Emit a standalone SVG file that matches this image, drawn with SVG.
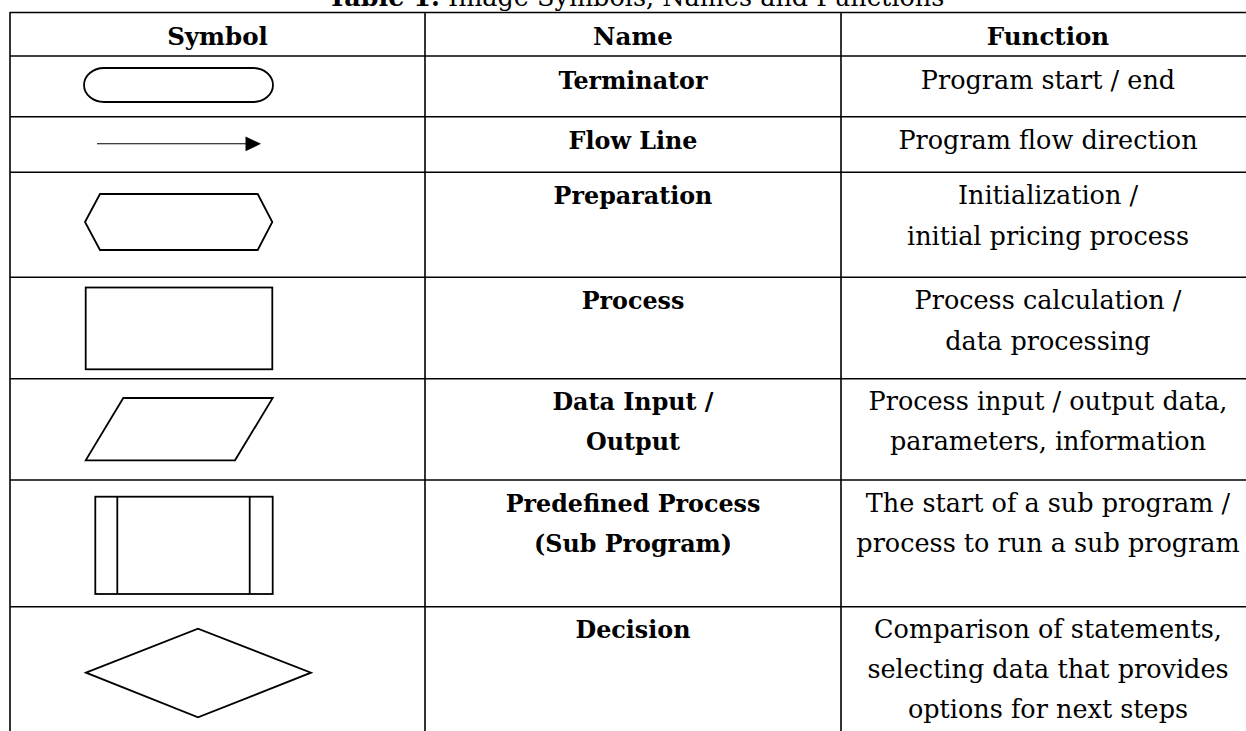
<svg xmlns="http://www.w3.org/2000/svg" width="1246" height="731" viewBox="0 0 1246 731">
<style>
.t{font-family:"DejaVu Serif","Liberation Serif",serif;font-size:25.5px;fill:#000;text-anchor:middle}
.b{font-weight:bold;font-size:23.8px}
.h{font-weight:bold;font-size:24.5px}
.grid{stroke:#000;stroke-width:1.6;fill:none}
.sym{stroke:#000;stroke-width:1.8;fill:none;stroke-linejoin:miter}
</style>
<rect width="1246" height="731" fill="#fff"/>
<g id="title">
<text class="t" x="636" y="5.5"><tspan font-weight="bold">Table 1.</tspan> Image Symbols, Names and Functions</text>
</g>
<g id="grid" class="grid">
<line x1="10" y1="12.5" x2="1246" y2="12.5"/>
<line x1="10" y1="56" x2="1246" y2="56"/>
<line x1="10" y1="116.7" x2="1246" y2="116.7"/>
<line x1="10" y1="172.3" x2="1246" y2="172.3"/>
<line x1="10" y1="277.3" x2="1246" y2="277.3"/>
<line x1="10" y1="378.7" x2="1246" y2="378.7"/>
<line x1="10" y1="480" x2="1246" y2="480"/>
<line x1="10" y1="606.7" x2="1246" y2="606.7"/>
<line x1="10" y1="12" x2="10" y2="731"/>
<line x1="425" y1="12" x2="425" y2="731"/>
<line x1="841" y1="12" x2="841" y2="731"/>
</g>
<g id="header">
<text class="t h" x="217.5" y="45">Symbol</text>
<text class="t h" x="633" y="45">Name</text>
<text class="t h" x="1048" y="45">Function</text>
</g>
<g id="terminator">
<rect class="sym" x="84" y="68" width="189" height="34" rx="20" ry="17" stroke-width="1.6"/>
<text class="t b" x="633" y="88.5">Terminator</text>
<text class="t" x="1048" y="88.5">Program start / end</text>
</g>
<g id="flow-line">
<line x1="97" y1="143.8" x2="247" y2="143.8" stroke="#000" stroke-width="1.1"/>
<polygon points="245.5,136.5 261,143.8 245.5,151.3" fill="#000"/>
<text class="t b" x="633" y="148.5">Flow Line</text>
<text class="t" x="1048" y="148.5">Program flow direction</text>
</g>
<g id="preparation">
<polygon class="sym" points="85,222 100,194 257.7,194 272.3,222 257.7,250 100,250"/>
<text class="t b" x="633" y="204">Preparation</text>
<text class="t" x="1048" y="204">Initialization /</text>
<text class="t" x="1048" y="244.5">initial pricing process</text>
</g>
<g id="process">
<rect class="sym" x="85.7" y="287.5" width="186.6" height="81.8"/>
<text class="t b" x="633" y="309">Process</text>
<text class="t" x="1048" y="309">Process calculation /</text>
<text class="t" x="1048" y="350">data processing</text>
</g>
<g id="data-io">
<polygon class="sym" points="123.3,398 272.7,398 235,460.3 85.7,460.3"/>
<text class="t b" x="633" y="409.5">Data Input /</text>
<text class="t b" x="633" y="450">Output</text>
<text class="t" x="1048" y="409.5">Process input / output data,</text>
<text class="t" x="1048" y="450">parameters, information</text>
</g>
<g id="predefined-process">
<rect class="sym" x="95.3" y="496.7" width="177.4" height="97.3"/>
<line class="sym" x1="117.3" y1="496.7" x2="117.3" y2="594"/>
<line class="sym" x1="249.7" y1="496.7" x2="249.7" y2="594"/>
<text class="t b" x="633" y="511.5">Predefined Process</text>
<text class="t b" x="633" y="552">(Sub Program)</text>
<text class="t" x="1048" y="511.5">The start of a sub program /</text>
<text class="t" x="1048" y="552">process to run a sub program</text>
</g>
<g id="decision">
<polygon class="sym" points="86,672.7 198,628.7 311,672.7 198,717.3"/>
<text class="t b" x="633" y="637.5">Decision</text>
<text class="t" x="1048" y="637.5">Comparison of statements,</text>
<text class="t" x="1048" y="678">selecting data that provides</text>
<text class="t" x="1048" y="718">options for next steps</text>
</g>
</svg>
